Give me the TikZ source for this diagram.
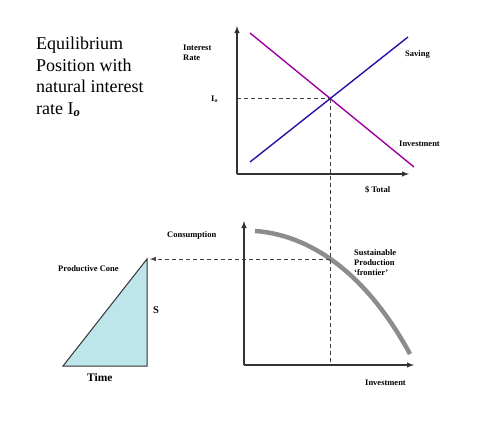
\documentclass[tikz,border=0pt]{standalone}
\usepackage{fontspec}
\setmainfont{Liberation Serif}
\usepackage{tikz}
\usetikzlibrary{arrows,positioning,calc}
\definecolor{invmagenta}{RGB}{160,0,160}
\definecolor{saveblue}{RGB}{45,15,165}
\definecolor{conecyan}{RGB}{190,230,234}
\definecolor{frontgray}{RGB}{140,140,140}

\begin{document}
\begin{tikzpicture}[
    x=1pt, y=-1pt,
    axis/.style={-latex, line width=1.4pt, black!80},
    guide/.style={dash pattern=on 4pt off 3pt, line width=1pt, black!75},
    curve/.style={line width=1.4pt},
    lbl/.style={inner sep=0pt, anchor=west, font=\fontsize{8.5}{10}\selectfont\bfseries, align=left},
    title/.style={inner sep=0pt, anchor=north west, font=\fontsize{18}{21.5}\selectfont, align=left}
]
    \useasboundingbox (0,0) rectangle (502,426);

    % Title
    \node[title] (head) at (36,37) {Equilibrium\\Position with\\natural interest\\rate I\textsubscript{\itshape\bfseries o}};

    % Loanable funds market
    \coordinate (o1) at (237,174);
    \coordinate (y1) at (237,26);
    \coordinate (x1) at (409,174);
    \draw[axis] (o1) -- (y1);
    \draw[axis] (o1) -- (x1);
    \coordinate (inv1) at (250,33);
    \coordinate (inv2) at (414,167);
    \coordinate (sav1) at (250,162);
    \coordinate (sav2) at (408,37);
    \draw[curve, invmagenta] (inv1) -- (inv2);
    \draw[curve, saveblue] (sav1) -- (sav2);
    \coordinate (eq) at (intersection of inv1--inv2 and sav1--sav2);

    \node[lbl] (rate) at (183,53) {Interest\\Rate};
    \node[lbl] (io) at (211,99) {I\textsubscript{\itshape o}};
    \node[lbl] (saving) at (405,54) {Saving};
    \node[lbl] (invest) at (399,144) {Investment};
    \node[lbl] (total) at (365,190) {\$ Total};

    % Production possibilities
    \coordinate (o2) at (244,365);
    \coordinate (y2) at (244,221);
    \coordinate (x2) at (414,365);
    \draw[axis] (o2) -- (y2);
    \draw[axis] (o2) -- (x2);
    \coordinate (fr1) at (255,231);
    \coordinate (fr2) at (410,354);
    \draw[frontgray, line width=4.5pt] (fr1) .. controls (300,234) and (360,262) .. (fr2);

    \node[lbl] (cons) at (167,235) {Consumption};
    \node[lbl] (frontier) at (354,263) {Sustainable\\Production\\`frontier'};
    \node[lbl] (inv) at (365,383) {Investment};

    % Productive cone
    \coordinate (c1) at (63,366);
    \coordinate (c2) at (147,366);
    \coordinate (c3) at (147,259);
    \draw[fill=conecyan, draw=black!80, line width=1pt] (c1) -- (c2) -- (c3) -- cycle;
    \node[lbl] (cone) at (58,269) {Productive Cone};
    \node[lbl, font=\fontsize{10.5}{12}\selectfont\bfseries] (s) at (153,310) {S};
    \node[lbl, font=\fontsize{11.5}{13}\selectfont\bfseries] (time) at (87,378) {Time};

    % Guide lines
    \coordinate (eqy) at (o1 |- eq);
    \coordinate (eqx) at (eq |- o2);
    \coordinate (fc) at (eq |- c3);
    \draw[guide] (eqy) -- (eq);
    \draw[guide] (eq) -- (eqx);
    \draw[guide, -latex] (fc) -- ($(c3)+(3,0)$);
\end{tikzpicture}
\end{document}
